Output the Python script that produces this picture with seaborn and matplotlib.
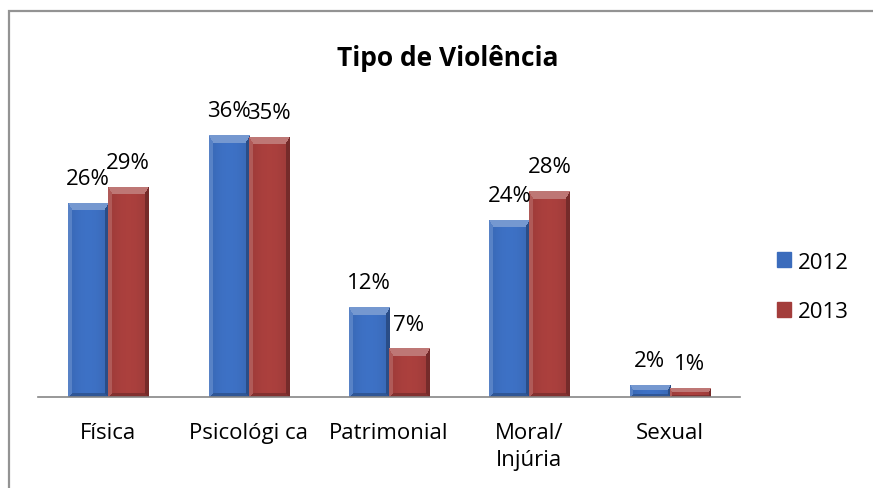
import seaborn as sns
import pandas as pd
import numpy as np
import matplotlib.pyplot as plt
from matplotlib.patches import Rectangle, Patch
from matplotlib.colors import to_rgb

categories = ["Física", "Psicológi ca", "Patrimonial", "Moral/\nInjúria", "Sexual"]
years = ["2012", "2013"]
v2012 = [26.4, 35.6, 12.2, 24.1, 1.7]
v2013 = [28.6, 35.4, 6.6, 28.0, 1.2]
colors = ["#3b6cbc", "#a33d3b"]

sns.set_theme(style="white")
plt.rcParams['font.family'] = ['Open Sans', 'DejaVu Sans']
plt.rcParams['text.color'] = 'black'
plt.rcParams['xtick.color'] = 'black'

data = pd.DataFrame({
    'tipo': categories * 2,
    'ano': [years[0]] * 5 + [years[1]] * 5,
    'valor': v2012 + v2013,
})

fig = plt.figure(figsize=(8.73, 4.89), dpi=100)
ax = fig.add_axes([38 / 873, 1 - 398 / 489, 702 / 873, 294 / 489])

sns.barplot(data=data, x='tipo', y='valor', hue='ano', palette=colors,
            width=0.57, gap=0, ax=ax, legend=False, errorbar=None,
            saturation=1)

# excel-like bevel shading
px_x = 702 / 5.0
px_y = 294 / 40.0


def bevel_img(color, w_px, h_px, b=8):
    base = np.array(to_rgb(color))
    nx = max(int(round(w_px)), 2)
    ny = max(int(round(h_px)), 2)
    xx, yy = np.meshgrid(np.arange(nx) + 0.5, np.arange(ny) + 0.5)
    img = np.ones((ny, nx, 3)) * base
    t = xx / nx
    shade = 0.95 + 0.10 * np.sin(np.pi * t)
    img = img * shade[..., None]
    d_top = yy
    d_left = xx * 1.8
    d_right = (nx - xx) * 1.8
    d_bot = (ny - yy) * 1.8
    bb = min(b, ny / 2.0)
    top = (d_top < bb) & (d_top <= d_left) & (d_top <= d_right)
    left = (d_left < bb) & (d_left < d_top) & (d_left <= d_bot)
    right = (d_right < bb) & (d_right < d_top) & (d_right <= d_bot)
    bot = (d_bot < bb) & (d_bot < d_left) & (d_bot < d_right)
    img[top] = base * 0.7 + np.array([1, 1, 1]) * 0.3
    img[left] = base * 0.85 + np.array([1, 1, 1]) * 0.15
    img[right] = base * 0.72
    img[bot] = base * 0.8
    return np.clip(img, 0, 1)


for cont, col in zip(ax.containers, colors):
    for bar in cont:
        x0 = bar.get_x()
        w = bar.get_width()
        h = bar.get_height()
        img = bevel_img(col, w * px_x, h * px_y)
        im = ax.imshow(img, extent=[x0, x0 + w, 0, h], aspect='auto',
                       origin='upper', zorder=bar.get_zorder() + 0.1,
                       interpolation='nearest')
        im.set_clip_path(bar)
    ax.bar_label(cont, labels=[f"{v:.0f}%" for v in cont.datavalues],
                 padding=10, fontsize=16)

ax.set_xlim(-0.5, 4.5)
ax.set_ylim(0, 40)
ax.set_xlabel("")
ax.set_ylabel("")
ax.set_yticks([])
ax.set_xticks(range(5))
ax.set_xticklabels(categories, fontsize=16, linespacing=1.35)
ax.tick_params(axis='x', which='major', length=0, pad=18)
ax.set_xticks(np.arange(-0.5, 5, 1), minor=True)
ax.tick_params(axis='x', which='minor', length=7, width=1.2, color='#868686',
               direction='out')
for s in ['top', 'right', 'left']:
    ax.spines[s].set_visible(False)
ax.spines['bottom'].set_color('#868686')
ax.spines['bottom'].set_linewidth(1.2)

fig.text(0.513, 1 - 58 / 489, "Tipo de Violência", ha='center', va='center',
         fontsize=19, fontweight='bold')

handles = [Patch(facecolor=c, edgecolor=c) for c in colors]
fig.legend(handles, years, loc='center left',
           bbox_to_anchor=(757 / 873, 1 - 288 / 489), frameon=False,
           fontsize=16, handlelength=0.65, handleheight=0.65,
           handletextpad=0.3, labelspacing=1.3)

# chart frame
fig.add_artist(Rectangle((9 / 873, -0.1), 1.2, 1 - 12 / 489 + 0.1,
                         transform=fig.transFigure, fill=False,
                         edgecolor='#939393', linewidth=1.6))

plt.savefig("out.png", dpi=100)
